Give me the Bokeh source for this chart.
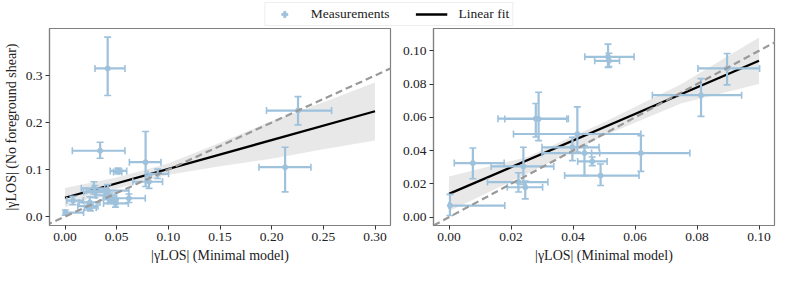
from bokeh.plotting import figure
from bokeh.models import (ColumnDataSource, Whisker, TeeHead, Slope, Range1d,
                          FixedTicker, NumeralTickFormatter, Legend, LegendItem)
from bokeh.layouts import column, row
from bokeh.embed import file_html
from bokeh.resources import INLINE

# ---------------- data: left panel ----------------
L_x    = [0.0003, 0.0077, 0.0224, 0.0240, 0.0246, 0.0280, 0.0289, 0.0398, 0.0414, 0.0437, 0.0462,
          0.0489, 0.0513, 0.0516, 0.0619, 0.0813, 0.0897, 0.0413, 0.0340, 0.0780, 0.2130, 0.2255]
L_xlo  = [0.0000, 0.0017, 0.0124, 0.0136, 0.0188, 0.0158, 0.0180, 0.0300, 0.0208, 0.0370, 0.0415,
          0.0373, 0.0438, 0.0470, 0.0460, 0.0656, 0.0803, 0.0290, 0.0071, 0.0623, 0.1877, 0.1950]
L_xhi  = [0.0180, 0.0178, 0.0319, 0.0338, 0.0302, 0.0385, 0.0380, 0.0484, 0.0619, 0.0500, 0.0510,
          0.0613, 0.0597, 0.0550, 0.0777, 0.0944, 0.1002, 0.0580, 0.0580, 0.0929, 0.2380, 0.2580]
L_y    = [0.0085, 0.0340, 0.0220, 0.0300, 0.0190, 0.0600, 0.0520, 0.0450, 0.0550, 0.0400, 0.0330,
          0.0280, 0.0970, 0.0950, 0.0390, 0.0740, 0.0910, 0.3150, 0.1400, 0.1156, 0.1050, 0.2255]
L_ylo  = [0.0030, 0.0250, 0.0140, 0.0180, 0.0120, 0.0480, 0.0400, 0.0360, 0.0420, 0.0300, 0.0280,
          0.0200, 0.0910, 0.0920, 0.0300, 0.0600, 0.0810, 0.2574, 0.1240, 0.0640, 0.0525, 0.1950]
L_yhi  = [0.0140, 0.0430, 0.0300, 0.0420, 0.0260, 0.0740, 0.0660, 0.0540, 0.0680, 0.0500, 0.0380,
          0.0360, 0.1030, 0.0990, 0.0480, 0.0880, 0.1010, 0.3816, 0.1580, 0.1810, 0.1475, 0.2550]
L_fit_x = [0.0, 0.30]
L_fit_y = [0.040, 0.224]
L_band_x  = [0.0, 0.05, 0.10, 0.15, 0.20, 0.25, 0.30]
L_band_lo = [0.020, 0.059, 0.089, 0.107, 0.123, 0.143, 0.162]
L_band_hi = [0.061, 0.083, 0.113, 0.157, 0.203, 0.243, 0.285]

# ---------------- data: right panel ----------------
R_x    = [0.0003, 0.0077, 0.0224, 0.0240, 0.0246, 0.0280, 0.0289, 0.0398, 0.0414, 0.0437, 0.0462,
          0.0489, 0.0513, 0.0516, 0.0619, 0.0813, 0.0897]
R_xlo  = [0.0000, 0.0017, 0.0124, 0.0136, 0.0188, 0.0158, 0.0180, 0.0300, 0.0208, 0.0300, 0.0415,
          0.0373, 0.0438, 0.0470, 0.0460, 0.0656, 0.0803]
R_xhi  = [0.0180, 0.0178, 0.0319, 0.0338, 0.0302, 0.0385, 0.0380, 0.0484, 0.0619, 0.0486, 0.0510,
          0.0613, 0.0597, 0.0550, 0.0777, 0.0944, 0.1002]
R_y    = [0.0070, 0.0325, 0.0211, 0.0305, 0.0180, 0.0592, 0.0590, 0.0420, 0.0500, 0.0385, 0.0335,
          0.0250, 0.0964, 0.0940, 0.0385, 0.0733, 0.0894]
R_ylo  = [0.0010, 0.0231, 0.0151, 0.0197, 0.0110, 0.0482, 0.0460, 0.0340, 0.0392, 0.0250, 0.0310,
          0.0190, 0.0900, 0.0905, 0.0275, 0.0606, 0.0795]
R_yhi  = [0.0137, 0.0416, 0.0267, 0.0420, 0.0217, 0.0683, 0.0751, 0.0480, 0.0663, 0.0430, 0.0362,
          0.0320, 0.1040, 0.0985, 0.0490, 0.0833, 0.0984]
R_fit_x = [0.0, 0.10]
R_fit_y = [0.014, 0.094]
R_band_x  = [0.0, 0.025, 0.05, 0.075, 0.10]
R_band_lo = [0.0035, 0.0260, 0.0490, 0.0685, 0.0800]
R_band_hi = [0.0245, 0.0360, 0.0570, 0.0800, 0.1080]

L_xticks = [0.0, 0.05, 0.10, 0.15, 0.20, 0.25, 0.30]
L_yticks = [0.0, 0.1, 0.2, 0.3]
R_xticks = [0.0, 0.02, 0.04, 0.06, 0.08, 0.10]
R_yticks = [0.0, 0.02, 0.04, 0.06, 0.08, 0.10]

X_LABEL = "|γLOS| (Minimal model)"
Y_LABEL = "|γLOS| (No foreground shear)"
LEGEND_LABELS = ["Measurements", "Linear fit"]

BLUE = "#9ec1dc"
FONT = "Liberation Serif"
FRAME = "#808080"
NAN = float("nan")


def make_panel(xs, xlo, xhi, ys, ylo, yhi, fx, fy, bx, blo, bhi, xr, yr, xt, yt, xfmt, yfmt,
               ylabel, border_left, border_right):
    p = figure(frame_width=341, frame_height=197, output_backend="svg", toolbar_location=None,
               x_range=Range1d(*xr), y_range=Range1d(*yr),
               min_border_left=border_left, min_border_right=border_right,
               min_border_top=1, min_border_bottom=42)
    p.grid.visible = False
    p.outline_line_color = FRAME
    p.outline_line_width = 1.2
    for ax in (p.xaxis[0], p.yaxis[0]):
        ax.axis_line_color = FRAME
        ax.axis_line_width = 1.2
        ax.major_tick_line_color = "#333333"
        ax.major_tick_out = 4
        ax.major_tick_in = 0
        ax.minor_tick_line_color = None
        ax.major_label_text_font = FONT
        ax.major_label_text_font_size = "13.5px"
        ax.major_label_text_color = "#222222"
        ax.axis_label_text_font = FONT
        ax.axis_label_text_font_size = "14px"
        ax.axis_label_text_font_style = "normal"
        ax.axis_label_text_color = "#222222"
        ax.major_label_standoff = 3
        ax.axis_label_standoff = 4
    p.xaxis[0].ticker = FixedTicker(ticks=xt)
    p.yaxis[0].ticker = FixedTicker(ticks=yt)
    p.xaxis[0].formatter = NumeralTickFormatter(format=xfmt)
    p.yaxis[0].formatter = NumeralTickFormatter(format=yfmt)
    p.xaxis[0].axis_label = X_LABEL
    if ylabel:
        p.yaxis[0].axis_label = ylabel

    # confidence band
    p.varea(x=bx, y1=blo, y2=bhi, fill_color="#d9d9d9", fill_alpha=0.6)

    src = ColumnDataSource(dict(x=xs, xlo=xlo, xhi=xhi, y=ys, ylo=ylo, yhi=yhi))
    wx = Whisker(source=src, base="y", lower="xlo", upper="xhi", dimension="width",
                 line_color=BLUE, line_width=2.2, level="glyph",
                 lower_head=TeeHead(size=7, line_color=BLUE, line_width=1.6),
                 upper_head=TeeHead(size=7, line_color=BLUE, line_width=1.6))
    wy = Whisker(source=src, base="x", lower="ylo", upper="yhi", dimension="height",
                 line_color=BLUE, line_width=2.2, level="glyph",
                 lower_head=TeeHead(size=7, line_color=BLUE, line_width=1.6),
                 upper_head=TeeHead(size=7, line_color=BLUE, line_width=1.6))
    p.add_layout(wx)
    p.add_layout(wy)
    p.scatter("x", "y", source=src, size=5, fill_color=BLUE, line_color=BLUE)

    slope = Slope(gradient=1, y_intercept=0, line_color="#999999", line_width=2.2,
                  line_dash="7 4", level="glyph")
    p.add_layout(slope)
    p.line(fx, fy, line_color="black", line_width=2.3)
    return p


left = make_panel(L_x, L_xlo, L_xhi, L_y, L_ylo, L_yhi, L_fit_x, L_fit_y,
                  L_band_x, L_band_lo, L_band_hi, (-0.015, 0.315), (-0.019, 0.40),
                  L_xticks, L_yticks, "0.00", "0.0", Y_LABEL, 46, 3)
right = make_panel(R_x, R_xlo, R_xhi, R_y, R_ylo, R_yhi, R_fit_x, R_fit_y,
                   R_band_x, R_band_lo, R_band_hi, (-0.005, 0.105), (-0.005, 0.1134),
                   R_xticks, R_yticks, "0.00", "0.00", None, 40, 7)

# legend strip (legend-only figure, glyphs are placeholders with no visible data)
lg = figure(width=777, height=27, output_backend="svg", toolbar_location=None,
            x_range=Range1d(0, 1), y_range=Range1d(0, 1), x_axis_type=None, y_axis_type=None,
            min_border=0)
lg.grid.visible = False
lg.outline_line_color = None
dummy = ColumnDataSource(dict(x=[NAN], y=[NAN]))
r1 = lg.scatter("x", "y", source=dummy, marker="plus", size=15, fill_color=BLUE,
                line_color=BLUE, line_width=0.5)
r3 = lg.line("x", "y", source=dummy, line_color="black", line_width=2.3)
legend = Legend(items=[LegendItem(label=LEGEND_LABELS[0], renderers=[r1], index=0),
                       LegendItem(label=LEGEND_LABELS[1], renderers=[r3], index=0)],
                orientation="horizontal", location="center",
                label_text_font=FONT, label_text_font_size="13.5px", label_text_color="#222222",
                border_line_color="#dddddd", border_line_width=1,
                glyph_width=32, glyph_height=16, spacing=26, padding=3, margin=0,
                label_standoff=11)
lg.add_layout(legend, "center")

page = column(lg, row(left, right, spacing=0), spacing=0)
open("out.html", "w").write(file_html(page, INLINE))
